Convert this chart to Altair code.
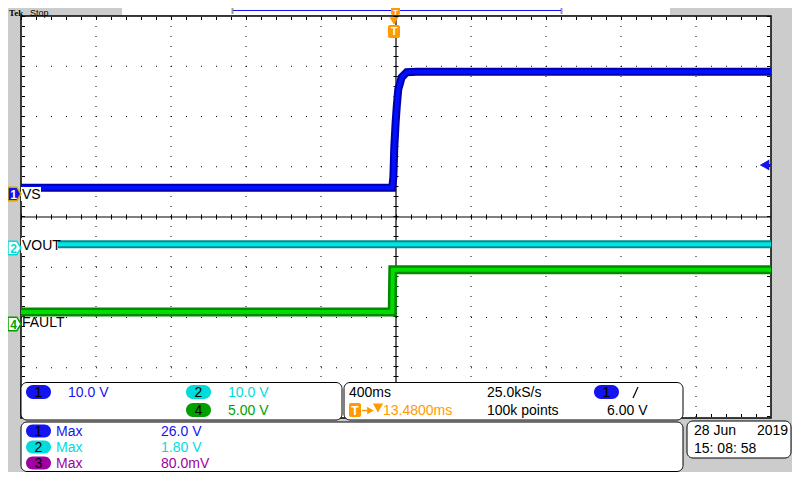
import altair as alt
import pandas as pd

time_per_div_ms = 400          # horizontal: 400 ms/div, 10 divisions, trigger at centre
# CH1  VS    (10 V/div)
vs_time_ms = [-2000, -20, -14, -9, -2, 4, 12, 30, 57, 110, 2000]
vs_volts = [1.2, 1.2, 3.4, 9.4, 14.2, 17.4, 20.8, 23.2, 24.2, 24.3, 24.3]
# CH2  VOUT  (10 V/div)
vout_time_ms = [-2000, 2000]
vout_volts = [0.8, 0.8]
# CH4  FAULT (5 V/div)
fault_time_ms = [-2000, -20, -19, -17, 2000]
fault_volts = [1.2, 1.2, 3.0, 5.4, 5.4]

channel_names = ["VS", "VOUT", "FAULT"]
volts_per_div = [10.0, 10.0, 5.0]
ground_div = [0.46, -0.62, -2.13]      # ground marker position, divisions from centre

ch_scale_text = ["10.0 V", "10.0 V", "5.00 V"]
max_labels = ["Max", "Max", "Max"]
max_values = ["26.0 V", "1.80 V", "80.0mV"]
timebase_text = "400ms"
sample_rate_text = "25.0kS/s"
record_text = "100k points"
trig_level_text = "6.00 V"
trig_pos_text = "13.4800ms"
date_text = "28 Jun"
year_text = "2019"
clock_text = "15: 08: 58"

# ---------------- style ----------------
FONT = "Liberation Sans"
BG = "#cccccc"
BLUE = "#1414f0"
CYAN = "#00dcdc"
GREEN = "#00a000"
PURPLE = "#a000a0"
ORANGE = "#ff9a00"

# screen pixel scales (page margin of 8px: screen x -> chart x-8)
PX = alt.Scale(domain=[8, 792], range=[0, 784], nice=False, zero=False)
PY = alt.Scale(domain=[8, 472], range=[0, 464], nice=False, zero=False)
# graticule scales
TX = alt.Scale(domain=[-5 * time_per_div_ms, 5 * time_per_div_ms], range=[13, 763], nice=False, zero=False)
Y_RANGE = [410, 8]
DY = alt.Scale(domain=[-4, 4], range=Y_RANGE, nice=False, zero=False)

layers = []


def px_rects(rows, **mk):
    df = pd.DataFrame(rows, columns=["x", "x2", "y", "y2", "fill", "stroke"])
    return alt.Chart(df).mark_rect(**mk).encode(
        x=alt.X("x:Q", scale=PX, axis=None), x2="x2:Q",
        y=alt.Y("y:Q", scale=PY, axis=None), y2="y2:Q",
        fill=alt.Fill("fill:N", scale=None), stroke=alt.Stroke("stroke:N", scale=None))


def px_texts(rows, size=14, align="left", weight="normal", font=FONT):
    df = pd.DataFrame(rows, columns=["x", "y", "text", "color"])
    return alt.Chart(df).mark_text(align=align, baseline="middle", fontSize=size,
                                   font=font, fontWeight=weight).encode(
        x=alt.X("x:Q", scale=PX, axis=None), y=alt.Y("y:Q", scale=PY, axis=None),
        text="text:N", color=alt.Color("color:N", scale=None))


def px_rules(rows, **mk):
    df = pd.DataFrame(rows, columns=["x", "x2", "y", "y2"])
    return alt.Chart(df).mark_rule(**mk).encode(
        x=alt.X("x:Q", scale=PX, axis=None), x2="x2:Q",
        y=alt.Y("y:Q", scale=PY, axis=None), y2="y2:Q")


def px_symbols(rows, shape, size, **mk):
    df = pd.DataFrame(rows, columns=["x", "y", "fill", "stroke"])
    return alt.Chart(df).mark_point(shape=shape, size=size, filled=True, opacity=1, **mk).encode(
        x=alt.X("x:Q", scale=PX, axis=None), y=alt.Y("y:Q", scale=PY, axis=None),
        fill=alt.Fill("fill:N", scale=None), stroke=alt.Stroke("stroke:N", scale=None))


# ---------------- graticule ----------------
frame = pd.DataFrame({"t0": [-2000], "t1": [2000], "d0": [-4], "d1": [4]})
layers.append(alt.Chart(frame).mark_rect(fill="white", stroke="black", strokeWidth=1.5).encode(
    x=alt.X("t0:Q", scale=TX, axis=None), x2="t1:Q",
    y=alt.Y("d1:Q", scale=DY, axis=None), y2="d0:Q"))

vgrid = pd.DataFrame({"t": [k * time_per_div_ms for k in range(-4, 5) if k != 0], "top": 4, "bot": -4})
layers.append(alt.Chart(vgrid).mark_rule(color="black", strokeDash=[1, 9], strokeWidth=1).encode(
    x=alt.X("t:Q", scale=TX, axis=None), y=alt.Y("top:Q", scale=DY, axis=None), y2="bot:Q"))
hgrid = pd.DataFrame({"d": [k for k in range(-3, 4) if k != 0], "l": -2000, "r": 2000})
layers.append(alt.Chart(hgrid).mark_rule(color="black", strokeDash=[1, 14], strokeWidth=1).encode(
    y=alt.Y("d:Q", scale=DY, axis=None), x=alt.X("l:Q", scale=TX, axis=None), x2="r:Q"))

# centre cross with minor ticks
cv = pd.DataFrame({"t": [0], "top": [4], "bot": [-4]})
ch = pd.DataFrame({"d": [0], "l": [-2000], "r": [2000]})
for sw, dash in [(1.2, None), (5, [1, 9])]:
    kw = dict(color="black", strokeWidth=sw)
    if dash:
        kw["strokeDash"] = dash
    layers.append(alt.Chart(cv).mark_rule(**kw).encode(
        x=alt.X("t:Q", scale=TX, axis=None), y=alt.Y("top:Q", scale=DY, axis=None), y2="bot:Q"))
for sw, dash in [(1.2, None), (5, [1, 14])]:
    kw = dict(color="black", strokeWidth=sw)
    if dash:
        kw["strokeDash"] = dash
    layers.append(alt.Chart(ch).mark_rule(**kw).encode(
        y=alt.Y("d:Q", scale=DY, axis=None), x=alt.X("l:Q", scale=TX, axis=None), x2="r:Q"))

# edge ticks (inside the frame)
layers.append(px_rules([[21, 771, 18.5, 18.5], [21, 771, 415.5, 415.5]],
                       color="black", strokeWidth=3, strokeDash=[1, 14]))
layers.append(px_rules([[23.5, 23.5, 16, 418], [768.5, 768.5, 16, 418]],
                       color="black", strokeWidth=3, strokeDash=[1, 9]))


# ---------------- traces ----------------
def trace(t, v, idx, outer, inner, w_out, w_in):
    s, off = volts_per_div[idx], ground_div[idx]
    ysc = alt.Scale(domain=[(-4 - off) * s, (4 - off) * s], range=Y_RANGE, nice=False, zero=False)
    df = pd.DataFrame({"t": t, "v": v})
    base = alt.Chart(df).encode(x=alt.X("t:Q", scale=TX, axis=None),
                                y=alt.Y("v:Q", scale=ysc, axis=None))
    return [base.mark_line(color=outer, strokeWidth=w_out),
            base.mark_line(color=inner, strokeWidth=w_in)]


layers += trace(vout_time_ms, vout_volts, 1, "#008c8c", "#00e4e4", 8, 4)
layers += trace(fault_time_ms, fault_volts, 2, "#008a00", "#00dc00", 9, 4)
layers += trace(vs_time_ms, vs_volts, 0, "#0000a8", "#0010ff", 8, 4)

# trace labels (white boxes)
layers.append(px_rects([[21, 41, 187, 201, "white", "transparent"],
                        [21, 58, 238, 253, "white", "transparent"]]))
layers.append(px_texts([[22, 194.5, channel_names[0], "black"],
                        [22, 246, channel_names[1], "black"],
                        [22, 322.5, channel_names[2], "black"]], size=14))

# channel ground markers (squeezed into the visible strip)
MARK = "M-1,-1.05 L0.35,-1.05 L1,0 L0.35,1.05 L-1,1.05 Z"
layers.append(px_symbols([[14.5, 194, BLUE, "#d2a800"]], MARK, 169, strokeWidth=1.5))
layers.append(px_symbols([[14.5, 248, "white", CYAN], [14.5, 324, "white", GREEN]], MARK, 169, strokeWidth=1.5))
layers.append(px_texts([[13.5, 194.5, "1", "white"], [13.5, 248.5, "2", CYAN], [13.5, 324.5, "4", GREEN]],
                       size=12, align="center", weight="bold"))

# trigger level arrow on the right
layers.append(px_rules([[765, 771, 165, 165]], color=BLUE, strokeWidth=2))
layers.append(px_symbols([[765, 165, BLUE, BLUE]], "triangle-left", 60))

# ---------------- top bar ----------------
layers.append(px_rects([[122, 670, 1, 15, "white", "transparent"]]))
layers.append(px_rules([[232.5, 232.5, 2, 14], [561.5, 561.5, 2, 14]], color="#999999", strokeWidth=2))
layers.append(px_rules([[233, 561, 10.5, 10.5]], color=BLUE, strokeWidth=1.2))
layers.append(px_texts([[9, 13, "Tek", "black"]], size=9, weight="bold", font="Liberation Serif"))
layers.append(px_texts([[30, 13, "Stop", "black"]], size=9))

# trigger position markers
layers.append(px_rects([[391, 400, 3, 15, ORANGE, "transparent"],
                        [388, 400, 25, 38, ORANGE, "transparent"]], cornerRadius=2))
layers.append(px_symbols([[394, 20.5, ORANGE, ORANGE]], "triangle-down", 30))
layers.append(px_texts([[395.5, 12.5, "T", "white"]], size=8, align="center", weight="bold"))
layers.append(px_texts([[394, 32, "T", "white"]], size=11, align="center", weight="bold"))

# ---------------- bottom read-outs ----------------
layers.append(px_rects([[21, 342, 382.5, 420, "white", "black"],
                        [344, 683, 382.5, 420, "white", "black"],
                        [21, 683, 422, 471.5, "white", "black"],
                        [687, 791, 421, 458, "white", "black"]],
                       cornerRadius=6, strokeWidth=1))

pills = [[26, 51, 385, 399, BLUE], [186, 211, 385, 399, CYAN], [186, 211, 403, 417, GREEN],
         [594, 619, 385, 399, BLUE],
         [26, 51, 424.5, 437.5, BLUE], [26, 51, 440.5, 453.5, CYAN], [26, 51, 456.5, 469.5, PURPLE]]
layers.append(px_rects([p + ["transparent"] for p in pills], cornerRadius=7))
layers.append(px_texts([[38.5, 392.5, "1", "black"], [198.5, 392.5, "2", "black"], [198.5, 410.5, "4", "black"],
                        [606.5, 392.5, "1", "black"],
                        [38.5, 431.5, "1", "black"], [38.5, 447.5, "2", "black"], [38.5, 463.5, "3", "black"]],
                       size=14, align="center"))

layers.append(px_texts([[68, 392.5, ch_scale_text[0], BLUE],
                        [228, 392.5, ch_scale_text[1], CYAN],
                        [228, 410.5, ch_scale_text[2], GREEN],
                        [349, 392.5, timebase_text, "black"],
                        [487, 392.5, sample_rate_text, "black"],
                        [487, 410.5, record_text, "black"],
                        [607, 410.5, trig_level_text, "black"],
                        [383, 410.5, trig_pos_text, ORANGE],
                        [56, 431.5, max_labels[0], BLUE],
                        [56, 447.5, max_labels[1], CYAN],
                        [56, 463.5, max_labels[2], PURPLE],
                        [161, 431.5, max_values[0], BLUE],
                        [161, 447.5, max_values[1], CYAN],
                        [161, 463.5, max_values[2], PURPLE],
                        [694, 431, date_text, "black"],
                        [757, 431, year_text, "black"],
                        [694, 449, clock_text, "black"]], size=14))

# trigger slope icon and position glyphs
layers.append(px_rules([[633, 638, 398, 387]], color="black", strokeWidth=1.2))
layers.append(px_rects([[349, 361, 403, 417, ORANGE, "transparent"]], cornerRadius=2))
layers.append(px_texts([[355, 410.5, "T", "white"]], size=12, align="center", weight="bold"))
layers.append(px_rules([[362, 371, 410.5, 410.5]], color=ORANGE, strokeWidth=1.5))
layers.append(px_symbols([[370, 410.5, ORANGE, ORANGE]], "triangle-right", 18))
layers.append(px_symbols([[378, 407.5, ORANGE, ORANGE]], "triangle-down", 45))

chart = alt.layer(*layers).resolve_scale(x="independent", y="independent").properties(
    width=784, height=464, background=BG, padding=0, autosize="none"
).configure_view(stroke=None)

chart.save("out.html", embed_options={"renderer": "svg", "actions": False})
